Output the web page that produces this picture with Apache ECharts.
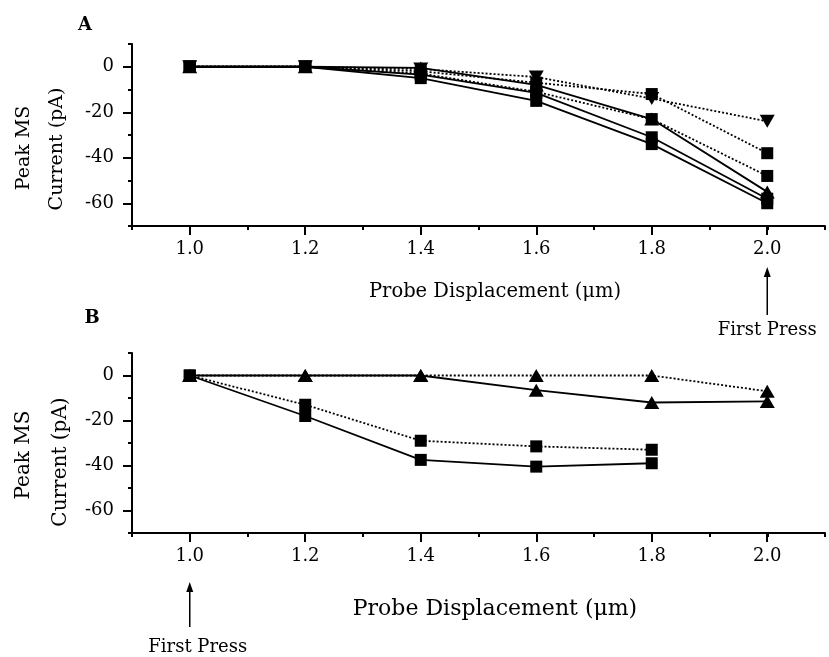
<!DOCTYPE html>
<html><head><meta charset="utf-8">
<script src="https://cdn.jsdelivr.net/npm/echarts@6/dist/echarts.min.js"></script>
<style>html,body{margin:0;padding:0;background:#fff}#c{width:829px;height:657px}</style>
</head><body><div id="c"></div>
<script>
// ---- data ----
var xVals = [1.0, 1.2, 1.4, 1.6, 1.8, 2.0];

// Panel A
var aDotTriDown = [0, 0, -1, -4.5, -14, -24];
var aDotSq1 = [0, 0, -2, -7, -12, -38];
var aDotSq2 = [0, 0, -3, -11, -23, -48];
var aSolTriUp = [0, 0, -0.5, -8, -23, -55];
var aSolSq1 = [0, 0, -3.5, -11.5, -31, -58];
var aSolSq2 = [0, 0, -5, -15, -34, -60];

// Panel B
var bSolTri = [0, 0, 0, -6.5, -12, -11.5];
var bDotTri = [0, 0, 0, 0, 0, -7];
var bDotSq = [0, -13, -29, -31.5, -33, null];
var bSolSq = [0, -18, -37.5, -40.5, -39, null];

var xTitle = 'Probe Displacement (μm)';
var yTitle1 = 'Peak MS';
var yTitle2 = 'Current (pA)';
var pressLabel = 'First Press';

// ---- chart ----
var FONT = 'DejaVu Serif';
var chart = echarts.init(document.getElementById('c'), null, {renderer: 'canvas'});

function pts(arr) {
  var out = [];
  for (var i = 0; i < xVals.length; i++) {
    if (arr[i] !== null && arr[i] !== undefined) out.push([xVals[i], arr[i]]);
  }
  return out;
}

// full-range panel grid (0.9..2.1, -70..10) and an overlay grid (1.0..2.0, -60..0) for major ticks
var X0 = 0.9, X1 = 2.1, Y0 = -70, Y1 = 10;
var gL = 132, gW = 693;
var pxX = gW / (X1 - X0);
function panelGrids(top, height) {
  var pxY = height / (Y1 - Y0);
  var main = {left: gL, top: top, width: gW, height: height};
  var over = {left: gL + (1.0 - X0) * pxX, width: (2.0 - 1.0) * pxX,
              top: top + (Y1 - 0) * pxY, height: 60 * pxY};
  return {main: main, over: over, offX: (-60 - Y0) * pxY, offY: (1.0 - X0) * pxX};
}
var GA = panelGrids(44, 182);
var GB = panelGrids(353, 180);

var axisBlack = {color: '#000', width: 2};
function mainX(grid) {
  return {type: 'value', gridIndex: grid, min: X0, max: X1, interval: 0.1, position: 'bottom',
    axisLine: {show: true, onZero: false, lineStyle: axisBlack},
    axisTick: {show: true, length: 4, lineStyle: axisBlack},
    axisLabel: {show: false}, splitLine: {show: false}};
}
function majorX(grid, off) {
  return {type: 'value', gridIndex: grid, min: 1.0, max: 2.0, interval: 0.2, position: 'bottom', offset: off,
    axisLine: {show: false, onZero: false},
    axisTick: {show: true, length: 9, lineStyle: axisBlack},
    axisLabel: {show: true, margin: 14, color: '#000', fontFamily: FONT, fontSize: 18,
      formatter: function (v) { return Number(v).toFixed(1); }},
    splitLine: {show: false}};
}
function mainY(grid) {
  return {type: 'value', gridIndex: grid, min: Y0, max: Y1, interval: 10, position: 'left',
    axisLine: {show: true, onZero: false, lineStyle: axisBlack},
    axisTick: {show: true, length: 4, lineStyle: axisBlack},
    axisLabel: {show: false}, splitLine: {show: false}};
}
function majorY(grid, off) {
  return {type: 'value', gridIndex: grid, min: -60, max: 0, interval: 20, position: 'left', offset: off,
    axisLine: {show: false, onZero: false},
    axisTick: {show: true, length: 9, lineStyle: axisBlack},
    axisLabel: {show: true, margin: 18, color: '#000', fontFamily: FONT, fontSize: 18},
    splitLine: {show: false}};
}

function ser(arr, axisIdx, symbol, rotate, dotted, size) {
  return {
    type: 'line', xAxisIndex: axisIdx, yAxisIndex: axisIdx, data: pts(arr),
    symbol: symbol, symbolSize: size, symbolRotate: rotate,
    itemStyle: {color: '#000'},
    lineStyle: {color: '#000', width: 1.8, type: dotted ? [2, 2] : 'solid'},
    emphasis: {disabled: true}, silent: true
  };
}

var option = {
  animation: false,
  backgroundColor: '#fff',
  grid: [GA.main, GB.main, GA.over, GB.over],
  xAxis: [mainX(0), majorX(2, GA.offX), mainX(1), majorX(3, GB.offX)],
  yAxis: [mainY(0), majorY(2, GA.offY), mainY(1), majorY(3, GB.offY)],
  series: [
    ser(aDotTriDown, 0, 'triangle', 180, true, [15, 13]),
    ser(aDotSq1, 0, 'rect', 0, true, 12),
    ser(aDotSq2, 0, 'rect', 0, true, 12),
    ser(aSolTriUp, 0, 'triangle', 0, false, [15, 13]),
    ser(aSolSq1, 0, 'rect', 0, false, 12),
    ser(aSolSq2, 0, 'rect', 0, false, 12),
    ser(bSolTri, 2, 'triangle', 0, false, [15, 13]),
    ser(bDotTri, 2, 'triangle', 0, true, [15, 13]),
    ser(bDotSq, 2, 'rect', 0, true, 12),
    ser(bSolSq, 2, 'rect', 0, false, 12)
  ]
};
chart.setOption(option);

// annotations
var pA2 = chart.convertToPixel({xAxisIndex: 0, yAxisIndex: 0}, [2.0, 0]);
var pB1 = chart.convertToPixel({xAxisIndex: 2, yAxisIndex: 2}, [1.0, 0]);
function arrow(x, yTip, yTail) {
  return [
    {type: 'line', shape: {x1: x, y1: yTip + 6, x2: x, y2: yTail}, style: {stroke: '#000', lineWidth: 1.5}},
    {type: 'polygon', shape: {points: [[x, yTip], [x - 3.5, yTip + 10], [x + 3.5, yTip + 10]]}, style: {fill: '#000'}}
  ];
}
function txt(x, y, s, size, opts) {
  opts = opts || {};
  return {type: 'text', x: x, y: y, rotation: opts.rot || 0,
    style: {text: s, fill: '#000', font: (opts.bold ? 'bold ' : '') + size + 'px "' + FONT + '"',
      textAlign: 'center', textVerticalAlign: 'middle'}};
}
var elements = [
  txt(85, 25, 'A', 18, {bold: true}),
  txt(92, 318, 'B', 18, {bold: true}),
  txt(24, 148, yTitle1, 19, {rot: Math.PI / 2}),
  txt(57, 149, yTitle2, 19, {rot: Math.PI / 2}),
  txt(24, 455, yTitle1, 20, {rot: Math.PI / 2}),
  txt(61, 462, yTitle2, 20, {rot: Math.PI / 2}),
  txt(495, 292, xTitle, 19.5),
  txt(495, 609, xTitle, 22),
  txt(pA2[0], 330, pressLabel, 18),
  txt(pB1[0] + 8, 647, pressLabel, 18)
].concat(arrow(pA2[0], 267, 315)).concat(arrow(pB1[0], 582, 627));
chart.setOption({graphic: {elements: elements}});
</script>
</body></html>
